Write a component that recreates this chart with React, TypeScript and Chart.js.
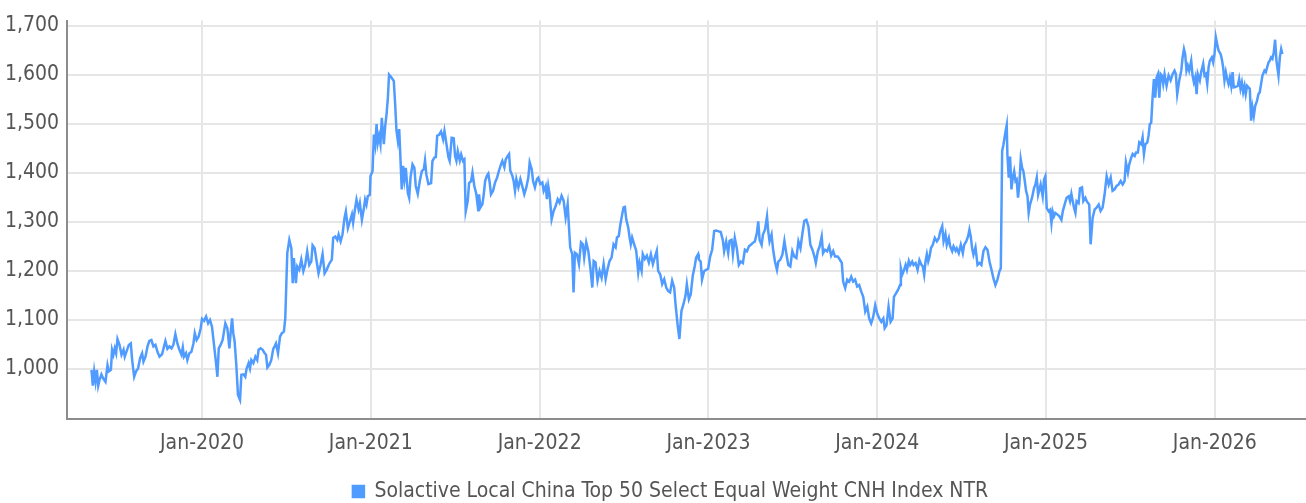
import React, { useEffect, useRef } from "react";
import { Chart, registerables } from "chart.js";

Chart.register(...registerables);

const dates: number[] = [
  2019.345, 2019.353, 2019.361, 2019.369, 2019.377, 2019.385, 2019.393, 2019.404, 2019.414, 2019.428,
  2019.440, 2019.448, 2019.460, 2019.467, 2019.475, 2019.483, 2019.491, 2019.499, 2019.511, 2019.523,
  2019.535, 2019.542, 2019.554, 2019.566, 2019.578, 2019.586, 2019.598, 2019.609, 2019.621, 2019.633,
  2019.645, 2019.653, 2019.665, 2019.677, 2019.688, 2019.700, 2019.712, 2019.724, 2019.736, 2019.748,
  2019.763, 2019.775, 2019.783, 2019.795, 2019.807, 2019.819, 2019.830, 2019.842, 2019.854, 2019.866,
  2019.878, 2019.886, 2019.893, 2019.905, 2019.913, 2019.925, 2019.937, 2019.949, 2019.957, 2019.968,
  2019.980, 2019.992, 2020.000, 2020.012, 2020.024, 2020.036, 2020.047, 2020.059, 2020.071, 2020.083,
  2020.091, 2020.099, 2020.110, 2020.122, 2020.130, 2020.138, 2020.150, 2020.162, 2020.170, 2020.178,
  2020.185, 2020.193, 2020.203, 2020.213, 2020.225, 2020.233, 2020.245, 2020.256, 2020.264, 2020.276,
  2020.284, 2020.292, 2020.304, 2020.316, 2020.327, 2020.335, 2020.347, 2020.359, 2020.371, 2020.379,
  2020.387, 2020.398, 2020.410, 2020.422, 2020.430, 2020.438, 2020.450, 2020.462, 2020.473, 2020.485,
  2020.493, 2020.505, 2020.517, 2020.529, 2020.537, 2020.544, 2020.556, 2020.564, 2020.576, 2020.588,
  2020.600, 2020.611, 2020.623, 2020.635, 2020.647, 2020.655, 2020.667, 2020.679, 2020.690, 2020.702,
  2020.714, 2020.726, 2020.738, 2020.753, 2020.769, 2020.777, 2020.789, 2020.801, 2020.809, 2020.821,
  2020.832, 2020.844, 2020.852, 2020.864, 2020.876, 2020.888, 2020.895, 2020.907, 2020.915, 2020.927,
  2020.935, 2020.947, 2020.959, 2020.966, 2020.974, 2020.982, 2020.994, 2020.998, 2021.010, 2021.018,
  2021.026, 2021.034, 2021.041, 2021.049, 2021.057, 2021.065, 2021.077, 2021.085, 2021.093, 2021.101,
  2021.108, 2021.124, 2021.136, 2021.144, 2021.152, 2021.160, 2021.168, 2021.176, 2021.183, 2021.191,
  2021.199, 2021.207, 2021.219, 2021.227, 2021.235, 2021.247, 2021.258, 2021.266, 2021.278, 2021.290,
  2021.302, 2021.314, 2021.321, 2021.329, 2021.341, 2021.357, 2021.365, 2021.377, 2021.385, 2021.393,
  2021.404, 2021.416, 2021.428, 2021.436, 2021.448, 2021.460, 2021.467, 2021.479, 2021.491, 2021.499,
  2021.507, 2021.515, 2021.527, 2021.535, 2021.546, 2021.554, 2021.562, 2021.574, 2021.582, 2021.594,
  2021.602, 2021.613, 2021.625, 2021.637, 2021.641, 2021.649, 2021.661, 2021.669, 2021.677, 2021.688,
  2021.696, 2021.704, 2021.712, 2021.724, 2021.736, 2021.748, 2021.759, 2021.771, 2021.779, 2021.791,
  2021.799, 2021.811, 2021.819, 2021.826, 2021.838, 2021.846, 2021.854, 2021.862, 2021.874, 2021.886,
  2021.897, 2021.909, 2021.921, 2021.933, 2021.941, 2021.953, 2021.961, 2021.972, 2021.984, 2021.992,
  2022.004, 2022.016, 2022.024, 2022.036, 2022.043, 2022.051, 2022.059, 2022.071, 2022.083, 2022.095,
  2022.107, 2022.118, 2022.130, 2022.142, 2022.154, 2022.166, 2022.174, 2022.181, 2022.193, 2022.201,
  2022.209, 2022.221, 2022.233, 2022.245, 2022.256, 2022.264, 2022.276, 2022.288, 2022.300, 2022.312,
  2022.320, 2022.331, 2022.343, 2022.355, 2022.367, 2022.379, 2022.391, 2022.402, 2022.414, 2022.426,
  2022.438, 2022.450, 2022.458, 2022.469, 2022.477, 2022.489, 2022.497, 2022.505, 2022.513, 2022.525,
  2022.533, 2022.540, 2022.548, 2022.560, 2022.572, 2022.584, 2022.592, 2022.604, 2022.611, 2022.623,
  2022.635, 2022.647, 2022.659, 2022.671, 2022.682, 2022.694, 2022.702, 2022.714, 2022.726, 2022.738,
  2022.750, 2022.761, 2022.773, 2022.785, 2022.797, 2022.805, 2022.817, 2022.828, 2022.840, 2022.852,
  2022.864, 2022.872, 2022.884, 2022.895, 2022.907, 2022.919, 2022.927, 2022.939, 2022.943, 2022.954,
  2022.962, 2022.974, 2022.986, 2022.998, 2023.010, 2023.022, 2023.034, 2023.046, 2023.057, 2023.073,
  2023.085, 2023.093, 2023.105, 2023.117, 2023.125, 2023.137, 2023.145, 2023.156, 2023.168, 2023.180,
  2023.192, 2023.204, 2023.216, 2023.228, 2023.240, 2023.251, 2023.263, 2023.275, 2023.287, 2023.295,
  2023.303, 2023.315, 2023.323, 2023.335, 2023.347, 2023.354, 2023.362, 2023.374, 2023.382, 2023.394,
  2023.406, 2023.414, 2023.426, 2023.438, 2023.450, 2023.461, 2023.473, 2023.485, 2023.497, 2023.509,
  2023.521, 2023.533, 2023.545, 2023.556, 2023.568, 2023.580, 2023.592, 2023.604, 2023.616, 2023.628,
  2023.636, 2023.648, 2023.659, 2023.671, 2023.679, 2023.691, 2023.703, 2023.715, 2023.727, 2023.739,
  2023.750, 2023.766, 2023.778, 2023.790, 2023.798, 2023.810, 2023.822, 2023.834, 2023.846, 2023.857,
  2023.869, 2023.881, 2023.893, 2023.905, 2023.917, 2023.929, 2023.941, 2023.952, 2023.964, 2023.976,
  2023.988, 2024.000, 2024.012, 2024.024, 2024.036, 2024.044, 2024.055, 2024.067, 2024.079, 2024.091,
  2024.099, 2024.111, 2024.123, 2024.135, 2024.140, 2024.148, 2024.156, 2024.168, 2024.176, 2024.187,
  2024.195, 2024.207, 2024.215, 2024.227, 2024.239, 2024.250, 2024.262, 2024.270, 2024.278, 2024.286,
  2024.294, 2024.302, 2024.310, 2024.318, 2024.329, 2024.341, 2024.353, 2024.365, 2024.373, 2024.385,
  2024.393, 2024.404, 2024.412, 2024.424, 2024.432, 2024.444, 2024.452, 2024.464, 2024.471, 2024.483,
  2024.495, 2024.507, 2024.515, 2024.527, 2024.538, 2024.546, 2024.554, 2024.562, 2024.570, 2024.582,
  2024.594, 2024.606, 2024.617, 2024.629, 2024.641, 2024.653, 2024.665, 2024.677, 2024.688, 2024.700,
  2024.712, 2024.724, 2024.732, 2024.740, 2024.748, 2024.759, 2024.767, 2024.771, 2024.779, 2024.787,
  2024.795, 2024.803, 2024.811, 2024.819, 2024.826, 2024.834, 2024.842, 2024.850, 2024.858, 2024.866,
  2024.874, 2024.882, 2024.890, 2024.897, 2024.905, 2024.917, 2024.929, 2024.937, 2024.945, 2024.953,
  2024.961, 2024.968, 2024.980, 2024.988, 2024.996, 2025.004, 2025.016, 2025.024, 2025.032, 2025.039,
  2025.047, 2025.055, 2025.067, 2025.079, 2025.091, 2025.099, 2025.110, 2025.122, 2025.134, 2025.142,
  2025.150, 2025.158, 2025.166, 2025.174, 2025.181, 2025.193, 2025.201, 2025.213, 2025.221, 2025.233,
  2025.241, 2025.249, 2025.256, 2025.264, 2025.276, 2025.288, 2025.300, 2025.312, 2025.323, 2025.335,
  2025.347, 2025.359, 2025.371, 2025.383, 2025.394, 2025.406, 2025.418, 2025.430, 2025.442, 2025.454,
  2025.465, 2025.473, 2025.485, 2025.493, 2025.505, 2025.513, 2025.525, 2025.533, 2025.544, 2025.552,
  2025.564, 2025.572, 2025.580, 2025.588, 2025.600, 2025.607, 2025.615, 2025.623, 2025.631, 2025.639,
  2025.647, 2025.655, 2025.663, 2025.671, 2025.679, 2025.686, 2025.694, 2025.702, 2025.714, 2025.726,
  2025.738, 2025.750, 2025.761, 2025.769, 2025.777, 2025.789, 2025.801, 2025.809, 2025.817, 2025.824,
  2025.832, 2025.840, 2025.848, 2025.860, 2025.868, 2025.876, 2025.884, 2025.892, 2025.899, 2025.911,
  2025.919, 2025.931, 2025.939, 2025.947, 2025.955, 2025.963, 2025.970, 2025.982, 2025.990, 2025.998,
  2026.006, 2026.014, 2026.022, 2026.034, 2026.041, 2026.049, 2026.057, 2026.065, 2026.073, 2026.081,
  2026.089, 2026.097, 2026.105, 2026.112, 2026.124, 2026.136, 2026.144, 2026.152, 2026.160, 2026.168,
  2026.176, 2026.183, 2026.191, 2026.199, 2026.207, 2026.215, 2026.223, 2026.231, 2026.239, 2026.250,
  2026.258, 2026.266, 2026.274, 2026.282, 2026.294, 2026.302, 2026.310, 2026.318, 2026.325, 2026.333,
  2026.341, 2026.349, 2026.357, 2026.365, 2026.377, 2026.385, 2026.393, 2026.400,
];

// Index levels
const values: number[] = [
  998, 966, 995, 974, 998, 966, 978, 989, 981, 974,
  1008, 995, 998, 1039, 1029, 1042, 1032, 1061, 1049, 1029,
  1039, 1025, 1037, 1049, 1052, 1018, 984, 995, 1001, 1022,
  1032, 1015, 1025, 1046, 1057, 1059, 1046, 1049, 1035, 1025,
  1030, 1046, 1057, 1041, 1046, 1042, 1049, 1071, 1052, 1039,
  1029, 1044, 1025, 1032, 1018, 1032, 1035, 1052, 1073, 1059,
  1066, 1083, 1102, 1098, 1107, 1093, 1100, 1086, 1049, 1012,
  984, 1042, 1049, 1059, 1076, 1093, 1083, 1042, 1076, 1103,
  1073, 1056, 1008, 947, 937, 988, 989, 984, 1001, 1012,
  1001, 1018, 1012, 1025, 1018, 1039, 1042, 1039, 1032, 1029,
  1003, 1008, 1018, 1041, 1046, 1052, 1032, 1066, 1073, 1076,
  1103, 1236, 1263, 1246, 1175, 1226, 1175, 1209, 1202, 1223,
  1199, 1212, 1240, 1212, 1219, 1252, 1246, 1219, 1195, 1212,
  1234, 1195, 1202, 1214, 1223, 1267, 1270, 1263, 1274, 1260,
  1274, 1308, 1321, 1287, 1301, 1315, 1298, 1328, 1345, 1325,
  1338, 1304, 1328, 1345, 1335, 1352, 1355, 1393, 1403, 1478,
  1458, 1499, 1461, 1475, 1458, 1512, 1458, 1495, 1519, 1553,
  1600, 1593, 1587, 1540, 1485, 1465, 1489, 1424, 1366, 1414,
  1386, 1410, 1359, 1349, 1390, 1417, 1410, 1373, 1357, 1383,
  1403, 1407, 1425, 1396, 1377, 1379, 1424, 1431, 1432, 1475,
  1477, 1484, 1468, 1485, 1458, 1431, 1424, 1471, 1470, 1434,
  1424, 1444, 1425, 1437, 1424, 1427, 1321, 1342, 1379, 1383,
  1400, 1373, 1356, 1321, 1356, 1329, 1336, 1356, 1383, 1394,
  1398, 1380, 1356, 1363, 1380, 1390, 1404, 1417, 1424, 1411,
  1427, 1434, 1438, 1404, 1394, 1383, 1363, 1387, 1370, 1387,
  1373, 1356, 1370, 1390, 1421, 1407, 1383, 1370, 1387, 1390,
  1377, 1380, 1363, 1373, 1346, 1373, 1356, 1305, 1322, 1332,
  1346, 1339, 1353, 1343, 1309, 1336, 1288, 1248, 1234, 1156,
  1237, 1234, 1214, 1258, 1254, 1227, 1258, 1241, 1207, 1166,
  1220, 1217, 1180, 1200, 1186, 1214, 1183, 1203, 1220, 1227,
  1254, 1248, 1268, 1271, 1292, 1315, 1329, 1330, 1305, 1288,
  1268, 1254, 1268, 1254, 1241, 1197, 1217, 1200, 1234, 1224,
  1231, 1217, 1234, 1214, 1227, 1241, 1200, 1193, 1173, 1183,
  1166, 1159, 1156, 1180, 1166, 1132, 1091, 1061, 1118, 1132,
  1149, 1173, 1142, 1152, 1190, 1210, 1227, 1234, 1223, 1219,
  1182, 1199, 1202, 1204, 1229, 1243, 1281, 1282, 1281, 1279,
  1263, 1240, 1260, 1236, 1261, 1263, 1234, 1267, 1246, 1212,
  1219, 1216, 1243, 1240, 1250, 1253, 1257, 1260, 1277, 1301,
  1263, 1253, 1274, 1284, 1311, 1281, 1260, 1274, 1246, 1219,
  1202, 1219, 1223, 1233, 1261, 1236, 1212, 1209, 1240, 1229,
  1226, 1260, 1246, 1274, 1302, 1304, 1291, 1253, 1243, 1229,
  1216, 1240, 1250, 1270, 1236, 1243, 1240, 1250, 1231, 1240,
  1229, 1229, 1223, 1216, 1178, 1165, 1182, 1178, 1188, 1178,
  1182, 1168, 1171, 1158, 1147, 1117, 1127, 1103, 1093, 1106,
  1130, 1113, 1103, 1096, 1103, 1083, 1089, 1127, 1096, 1103,
  1147, 1154, 1161, 1171, 1205, 1192, 1199, 1212, 1202, 1220,
  1212, 1219, 1212, 1216, 1202, 1222, 1212, 1209, 1192, 1219,
  1234, 1219, 1229, 1246, 1253, 1267, 1260, 1267, 1280, 1291,
  1260, 1275, 1253, 1267, 1250, 1240, 1250, 1241, 1246, 1236,
  1253, 1236, 1253, 1260, 1270, 1284, 1270, 1246, 1233, 1248,
  1212, 1216, 1212, 1240, 1248, 1243, 1219, 1202, 1185, 1171,
  1182, 1199, 1205, 1444, 1458, 1482, 1497, 1437, 1390, 1433,
  1366, 1390, 1403, 1383, 1386, 1349, 1376, 1427, 1410, 1403,
  1383, 1362, 1352, 1318, 1335, 1349, 1369, 1376, 1390, 1355,
  1366, 1376, 1352, 1386, 1393, 1328, 1321, 1324, 1297, 1321,
  1311, 1318, 1315, 1311, 1304, 1321, 1335, 1349, 1352, 1342,
  1357, 1342, 1328, 1318, 1342, 1338, 1368, 1370, 1342, 1349,
  1342, 1338, 1335, 1254, 1308, 1325, 1329, 1335, 1322, 1329,
  1356, 1393, 1376, 1390, 1363, 1366, 1373, 1376, 1383, 1376,
  1383, 1421, 1400, 1417, 1431, 1438, 1434, 1441, 1441, 1462,
  1458, 1472, 1438, 1458, 1462, 1475, 1499, 1502, 1553, 1591,
  1553, 1594, 1601, 1553, 1601, 1598, 1581, 1601, 1577, 1598,
  1588, 1601, 1608, 1601, 1560, 1588, 1608, 1635, 1652, 1642,
  1608, 1618, 1608, 1628, 1598, 1584, 1594, 1560, 1601, 1588,
  1605, 1622, 1598, 1601, 1581, 1615, 1628, 1635, 1625, 1642,
  1676, 1662, 1649, 1642, 1632, 1615, 1588, 1605, 1591, 1581,
  1594, 1577, 1605, 1574, 1575, 1577, 1591, 1571, 1584, 1564,
  1577, 1560, 1577, 1574, 1571, 1506, 1533, 1516, 1536, 1547,
  1560, 1564, 1581, 1598, 1608, 1605, 1615, 1625, 1628, 1635,
  1632, 1645, 1671, 1628, 1598, 1635, 1652, 1642,
];

const seriesLabel = "Solactive Local China Top 50 Select Equal Weight CNH Index NTR";
const xTickYears: number[] = [2020, 2021, 2022, 2023, 2024, 2025, 2026];
const yTickValues: number[] = [1000, 1100, 1200, 1300, 1400, 1500, 1600, 1700];

const FONT = "'Liberation Sans Narrow', 'DejaVu Sans Condensed', 'Roboto', sans-serif";
const LINE_COLOR = "#4f9bff";

// Shift the legend box so it is centred like the reference (a little right of canvas centre)
const legendShift = {
  id: "legendShift",
  beforeDraw(chart: any) {
    if (chart.legend) {
      chart.legend.left += 35;
    }
  },
};

export default function App() {
  const canvasRef = useRef<HTMLCanvasElement | null>(null);

  useEffect(() => {
    document.body.style.margin = "0";
    const canvas = canvasRef.current;
    if (!canvas) return;
    const points = dates.map((d, i) => ({ x: d, y: values[i] }));
    const chart = new Chart(canvas, {
      type: "line",
      data: {
        datasets: [
          {
            label: seriesLabel,
            data: points,
            borderColor: LINE_COLOR,
            backgroundColor: LINE_COLOR,
            borderWidth: 2.5,
            pointRadius: 0,
            tension: 0,
            fill: false,
          },
        ],
      },
      plugins: [legendShift],
      options: {
        animation: false,
        responsive: false,
        devicePixelRatio: 1,
        layout: { padding: { top: 19, left: 0, right: 0, bottom: -9 } },
        plugins: {
          legend: {
            position: "bottom",
            labels: {
              boxWidth: 11,
              boxHeight: 11,
              padding: 6,
              color: "#555555",
              font: { family: FONT, size: 21 },
            },
          },
          tooltip: { enabled: false },
        },
        scales: {
          x: {
            type: "linear",
            min: 2019.2,
            max: 2026.54,
            afterBuildTicks: (scale: any) => {
              scale.ticks = xTickYears.map((v) => ({ value: v }));
            },
            afterFit: (scale: any) => {
              scale.height = 56;
            },
            ticks: {
              autoSkip: false,
              maxRotation: 0,
              padding: 12,
              color: "#555555",
              font: { family: FONT, size: 21 },
              callback: (v: any) => "Jan-" + v,
            },
            grid: { color: "#e6e6e6", lineWidth: 2, drawTicks: false },
            border: { display: true, color: "#8c8c8c", width: 2 },
          },
          y: {
            type: "linear",
            min: 898,
            max: 1710,
            afterBuildTicks: (scale: any) => {
              scale.ticks = yTickValues.map((v) => ({ value: v }));
            },
            afterFit: (scale: any) => {
              scale.width = 67;
            },
            ticks: {
              padding: 8,
              color: "#555555",
              font: { family: FONT, size: 21 },
              callback: (v: any) => Number(v).toLocaleString("en-US"),
            },
            grid: { color: "#e6e6e6", lineWidth: 2, drawTicks: false },
            border: { display: true, color: "#8c8c8c", width: 2 },
          },
        },
      },
    });
    return () => chart.destroy();
  }, []);

  return (
    <div style={{ position: "absolute", left: 0, top: 0, width: 1306, height: 503, overflow: "hidden" }}>
      <canvas ref={canvasRef} width={1306} height={503} style={{ width: 1306, height: 503 }} />
    </div>
  );
}
